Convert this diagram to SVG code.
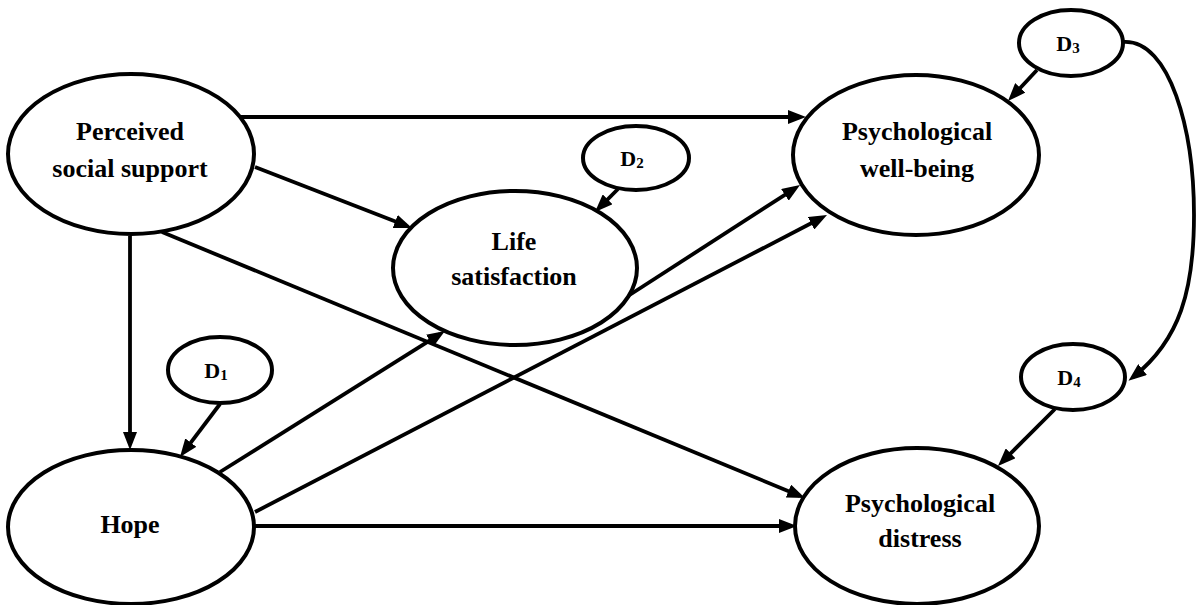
<svg xmlns="http://www.w3.org/2000/svg" width="1198" height="605" viewBox="0 0 1198 605">
<style>
.node ellipse{fill:#fff;stroke:#000;stroke-width:4}
.lbl{font-family:"Liberation Serif","Times New Roman",serif;font-weight:bold;font-size:26px;text-anchor:middle;fill:#000}
.dl{font-family:"Liberation Serif","Times New Roman",serif;font-weight:bold;font-size:22px;text-anchor:middle;fill:#000}
.sub{font-size:15px}
#connectors line,#connectors path{stroke:#000;stroke-width:3.8;fill:none;marker-end:url(#ah)}
</style>
<defs>
<marker id="ah" markerUnits="userSpaceOnUse" markerWidth="18" markerHeight="14" refX="12" refY="7" orient="auto">
<path d="M0,0 L18,7 L0,14 z" fill="#000"/>
</marker>
</defs>
<g id="connectors">
<line x1="238" y1="117" x2="800" y2="117"/>
<line x1="255" y1="167" x2="406.4" y2="225.8"/>
<line x1="162" y1="232" x2="799.5" y2="495.7"/>
<line x1="628" y1="296" x2="795" y2="188.3"/>
<line x1="220" y1="472" x2="439.9" y2="334.2"/>
<line x1="255" y1="512" x2="821.7" y2="217.8"/>
<line x1="255" y1="526" x2="791" y2="526"/>
<line x1="130" y1="236" x2="130" y2="444"/>
<line x1="220" y1="404" x2="183.6" y2="452.2"/>
<line x1="618" y1="189" x2="599.2" y2="207.8"/>
<line x1="1037" y1="70" x2="1012.1" y2="96.6"/>
<line x1="1055" y1="409" x2="1002.2" y2="461.8"/>
<path d="M1124,42 C1170,40 1194,130 1194,215 C1194,290 1180,340 1133.2,377"/>
</g>
<g id="pss" class="node"><ellipse cx="131" cy="154" rx="123" ry="80"/><text class="lbl" x="130" y="140">Perceived</text><text class="lbl" x="130" y="177">social support</text></g>
<g id="hope" class="node"><ellipse cx="131" cy="527" rx="123" ry="77"/><text class="lbl" x="130" y="533">Hope</text></g>
<g id="ls" class="node"><ellipse cx="515" cy="268" rx="122" ry="77"/><text class="lbl" x="514" y="250">Life</text><text class="lbl" x="514" y="285">satisfaction</text></g>
<g id="pwb" class="node"><ellipse cx="916" cy="155" rx="123" ry="80"/><text class="lbl" x="917" y="140">Psychological</text><text class="lbl" x="917" y="177">well-being</text></g>
<g id="pd" class="node"><ellipse cx="917" cy="526" rx="122" ry="78"/><text class="lbl" x="920" y="512">Psychological</text><text class="lbl" x="920" y="547">distress</text></g>
<g id="d1" class="node"><ellipse cx="220" cy="370" rx="52" ry="33"/><text class="dl" x="216" y="378">D<tspan class="sub" dy="2">1</tspan></text></g>
<g id="d2" class="node"><ellipse cx="636" cy="158" rx="53" ry="32"/><text class="dl" x="632" y="166">D<tspan class="sub" dy="2">2</tspan></text></g>
<g id="d3" class="node"><ellipse cx="1071" cy="43" rx="52" ry="33"/><text class="dl" x="1068" y="51">D<tspan class="sub" dy="2">3</tspan></text></g>
<g id="d4" class="node"><ellipse cx="1073" cy="377" rx="52" ry="33"/><text class="dl" x="1069" y="385">D<tspan class="sub" dy="2">4</tspan></text></g>
</svg>
